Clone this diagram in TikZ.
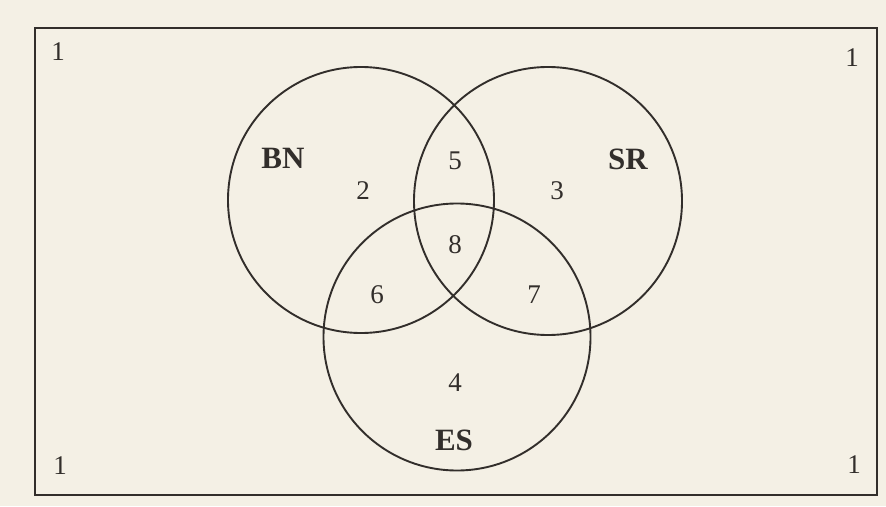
\documentclass[tikz,border=0pt]{standalone}
\usepackage{fontspec}
\setmainfont{Liberation Serif}
\definecolor{paper}{RGB}{244,240,229}
\definecolor{ink}{RGB}{50,46,43}
\tikzset{
  setring/.style={circle, draw=ink, line width=1.9pt, inner sep=0pt, minimum size=#1},
  region/.style={text=ink, font=\fontsize{27}{27}\selectfont, inner sep=0pt},
  setname/.style={text=ink, font=\fontsize{31}{31}\selectfont\bfseries, inner sep=0pt},
}
\begin{document}
\begin{tikzpicture}[x=1pt,y=-1pt]
  % page and outer frame (the universe)
  \fill[paper] (0,0) rectangle (886,506);
  \useasboundingbox (0,0) rectangle (886,506);
  \node[draw=ink, line width=1.9pt, inner sep=0pt, minimum width=842pt, minimum height=467pt] (U) at (456,261.5) {};

  % the three sets
  \node[setring=266pt] (BN) at (361,200) {};
  \node[setring=268pt] (SR) at (548,201) {};
  \node[setring=267pt] (ES) at (457,337) {};

  % set labels
  \node[setname] (lbn) at (283,158) {BN};
  \node[setname] (lsr) at (628,159) {SR};
  \node[setname] (les) at (454,440) {ES};

  % region numbers
  \node[region] (r2) at (363,191) {2};
  \node[region] (r3) at (557,191) {3};
  \node[region] (r5) at (455,161) {5};
  \node[region] (r8) at (455,245) {8};
  \node[region] (r6) at (377,295) {6};
  \node[region] (r7) at (534,295) {7};
  \node[region] (r4) at (455,383) {4};

  % outside region, one in each corner
  \node[region] (c1) at (58,52) {1};
  \node[region] (c2) at (852,58) {1};
  \node[region] (c3) at (60,466) {1};
  \node[region] (c4) at (854,465) {1};
\end{tikzpicture}
\end{document}
